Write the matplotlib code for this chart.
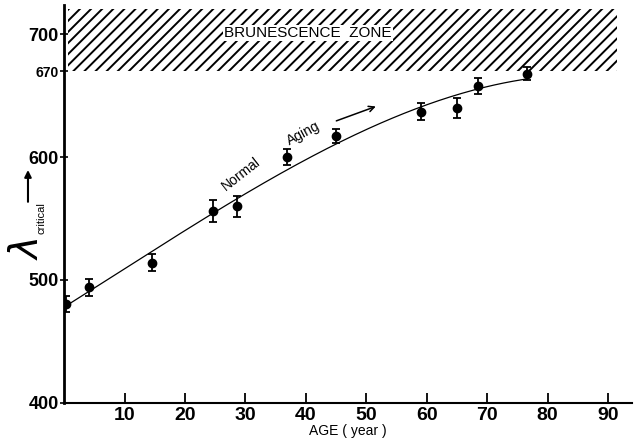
#coding: utf-8
import numpy as np
import matplotlib.pyplot as plt

plt.rcParams['font.family'] = ['Liberation Sans Narrow', 'Liberation Sans', 'DejaVu Sans']
plt.rcParams['hatch.linewidth'] = 1.4

# 数据: 年龄 / 临界波长 / 误差
age = np.array([0.3, 4.1, 14.5, 24.7, 28.6, 36.9, 45.0, 59.0, 65.0, 68.4, 76.6])
lam = np.array([480, 494, 514, 556, 560, 600, 617, 637, 640, 658, 668])
err = np.array([6.5, 6.8, 7.0, 9.0, 8.5, 6.3, 5.7, 6.8, 8.2, 6.4, 5.5])

zone_low = 670
zone_high = 721
xticks = [10, 20, 30, 40, 50, 60, 70, 80, 90]
yticks = [400, 500, 600, 700]

fig = plt.figure(figsize=(6.36, 4.4), dpi=100)
ax = fig.add_axes([0.101, 0.085, 0.893, 0.904])
ax.set_xlim(0, 94)
ax.set_ylim(400, 724)

# brunescence zone 阴影
ax.fill_between([0.6, 91.5], zone_low, zone_high, facecolor='white',
                edgecolor='black', hatch='///', linewidth=0)
ax.text(40.3, 701, 'BRUNESCENCE  ZONE', ha='center', va='center', fontsize=11,
        fontweight='medium', family=['Liberation Sans', 'DejaVu Sans'],
        bbox=dict(facecolor='white', edgecolor='none', pad=1))

# 拟合曲线
p = np.polyfit(age, lam, 3)
xx = np.linspace(0, age[-1], 200)
ax.plot(xx, np.polyval(p, xx), color='black', lw=0.9)

ax.errorbar(age, lam, yerr=err, fmt='o', color='black', ms=6,
            capsize=3, elinewidth=1.3, capthick=1.3)

ax.text(29.2, 586, 'Normal', rotation=38, ha='center', va='center', fontsize=10,
        family=['Liberation Sans', 'DejaVu Sans'])
ax.text(39.6, 619, 'Aging', rotation=28, ha='center', va='center', fontsize=10,
        family=['Liberation Sans', 'DejaVu Sans'])
ax.annotate('', xy=(52, 642), xytext=(44.6, 628.7),
            arrowprops=dict(arrowstyle='->', color='black', lw=1.1))

# 坐标轴
for s in ['top', 'right']:
    ax.spines[s].set_visible(False)
ax.spines['left'].set_linewidth(2)
ax.spines['bottom'].set_linewidth(1.5)

ax.set_xticks(xticks)
ax.set_xticklabels([str(t) for t in xticks], fontsize=14, fontweight='bold')
ax.tick_params(axis='x', direction='in', length=7, width=1.3, pad=3)
ax.set_yticks(yticks + [670])
ax.set_yticklabels(['400', '500', '600', '700', '670'], fontsize=13, fontweight='bold')
ax.get_yticklabels()[-1].set_fontsize(10)
ax.tick_params(axis='y', direction='inout', length=6, width=1.2, pad=1)

ax.set_xlabel('AGE ( year )', fontsize=10, labelpad=0,
              family=['Liberation Sans', 'DejaVu Sans'])

# y 轴标签 λ critical
fig.text(0.044, 0.435, r'$\lambda$', rotation=90, fontsize=28, ha='center', va='center')
fig.text(0.066, 0.505, 'critical', rotation=90, fontsize=8, ha='center', va='center',
         family=['Liberation Sans', 'DejaVu Sans'])
ax.annotate('', xy=(0.044, 0.62), xytext=(0.044, 0.535), xycoords='figure fraction',
            textcoords='figure fraction',
            arrowprops=dict(arrowstyle='-|>', color='black', lw=1.5))

plt.savefig('out.png', dpi=100)
